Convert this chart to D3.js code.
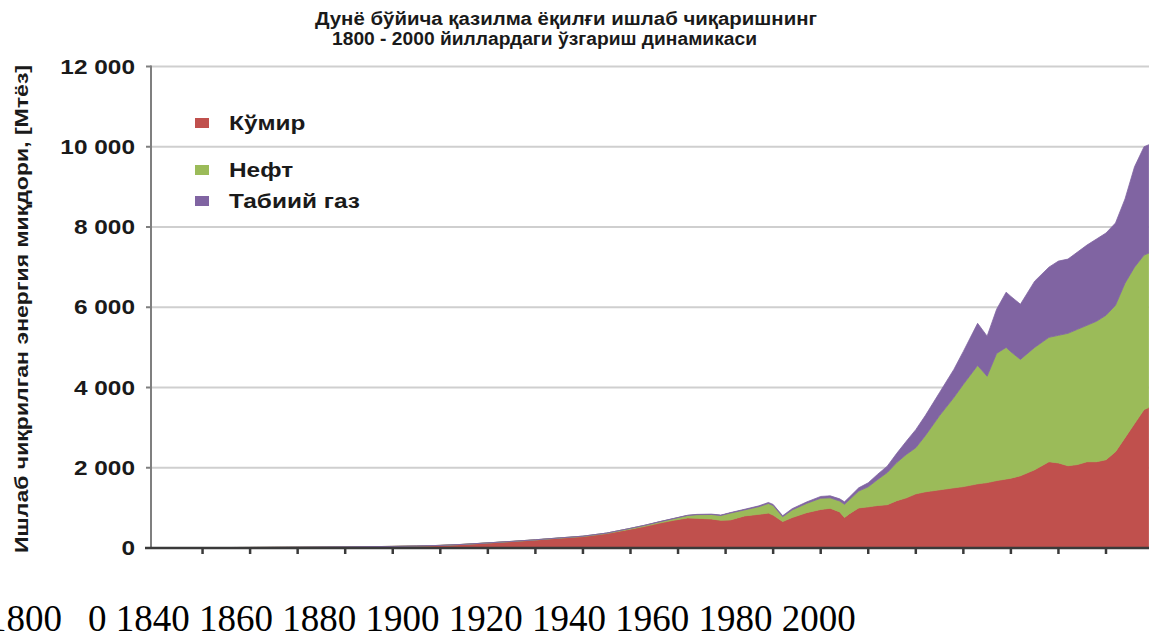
<!DOCTYPE html>
<html>
<head>
<meta charset="utf-8">
<script src="https://cdn.jsdelivr.net/npm/d3@7"></script>
<style>
  html, body { margin: 0; padding: 0; background: #fff; }
  svg { display: block; }
</style>
</head>
<body>
<svg id="chart" width="1149" height="639"></svg>
<script>
// Fossil fuel production, Mtoe, stacked by fuel
const years = [1800,1810,1820,1830,1840,1850,1855,1860,1865,1870,
               1875,1880,1885,1890,1895,1900,1903,1906,1909,1912,
               1914,1917,1919,1921,1924,1927,1929,1930,1932,1934,
               1937,1940,1942,1944,1945,1946,1948,1950,1952,1954,
               1956,1958,1960,1962,1965,1968,1970,1973,1975,1977,
               1979,1980,1982,1985,1988,1990,1992,1994,1996,1998,
               2000,2002,2004,2006,2008,2009];
const coal  = [8,10,14,20,28,40,50,65,90,125,
               160,200,245,285,360,470,540,620,690,750,
               740,725,690,700,800,840,870,820,660,760,
               880,960,990,900,760,850,1000,1025,1060,1080,
               1180,1250,1350,1400,1450,1500,1530,1600,1630,1680,
               1720,1740,1800,1950,2150,2120,2050,2080,2150,2150,
               2200,2400,2750,3100,3450,3500];
const oil   = [0,0,0,0,0,0,0,0,2,3,
               5,5,6,10,12,20,25,30,40,60,
               90,110,120,170,150,190,240,240,120,190,
               230,280,260,270,330,350,420,500,650,800,
               950,1080,1150,1400,1850,2250,2550,2950,2650,3170,
               3280,3150,2900,3050,3100,3180,3300,3370,3400,3500,
               3600,3650,3850,3900,3850,3850];
const gas   = [0,0,0,0,0,0,0,0,0,0,
               0,0,0,0,0,2,3,4,5,6,
               8,10,10,12,15,20,25,25,25,30,
               35,45,50,55,60,65,80,100,130,160,
               230,330,450,500,575,700,820,1050,1000,1100,
               1375,1380,1375,1650,1750,1850,1850,1925,2000,2050,
               2050,2050,2100,2500,2700,2700];

const seriesKeys   = ["coal", "oil", "gas"];
const seriesNames  = ["Кўмир", "Нефт", "Табиий газ"];
const seriesColors = ["#c0504d", "#9bbb59", "#8064a2"];

const yTicks = [0, 2000, 4000, 6000, 8000, 10000, 12000];
const xTickYears = d3.range(1810, 2011, 10);
const yearLabels = ["1800", "0", "1840", "1860", "1880", "1900", "1920", "1940", "1960", "1980", "2000"];

const titleLines = ["Дунё бўйича қазилма ёқилғи ишлаб чиқаришнинг",
                    "1800 - 2000 йиллардаги ўзгариш динамикаси"];
const yTitle = "Ишлаб чиқрилган энергия миқдори, [Мтёз]";

const table = years.map((y, i) => ({ year: y, coal: coal[i], oil: oil[i], gas: gas[i] }));

const svg = d3.select("#chart");
const W = 1149;
const axisX = 151, baseY = 548;

const x = d3.scaleLinear().domain([1800, 2000]).range([155, 1106]);
const y = d3.scaleLinear().domain([0, 12000]).range([baseY, 66.5]);

// horizontally widened sans text
const SX = 1.22;
function widen(sel, f) {
  sel.each(function () {
    const w = this.getComputedTextLength();
    this.setAttribute("textLength", w * f);
    this.setAttribute("lengthAdjust", "spacingAndGlyphs");
  });
}

// gridlines
svg.append("g").selectAll("line").data(yTicks.filter(d => d > 0)).join("line")
  .attr("x1", axisX).attr("x2", W)
  .attr("y1", d => y(d)).attr("y2", d => y(d))
  .attr("stroke", "#cfcfcf").attr("stroke-width", 2);

// stacked areas
const stacked = d3.stack().keys(seriesKeys)(table);
const area = d3.area()
  .x(d => x(d.data.year))
  .y0(d => y(d[0]))
  .y1(d => y(d[1]))
  .curve(d3.curveLinear);

svg.append("g").selectAll("path").data(stacked).join("path")
  .attr("d", area)
  .attr("fill", (d, i) => seriesColors[i])
  .attr("stroke", (d, i) => seriesColors[i])
  .attr("stroke-width", 0.8);

// y axis
svg.append("line").attr("x1", axisX).attr("x2", axisX)
  .attr("y1", y(12000) - 1).attr("y2", baseY)
  .attr("stroke", "#7f7f7f").attr("stroke-width", 2);
svg.append("g").selectAll("line").data(yTicks).join("line")
  .attr("x1", axisX - 5).attr("x2", axisX)
  .attr("y1", d => y(d)).attr("y2", d => y(d))
  .attr("stroke", "#7f7f7f").attr("stroke-width", 2);

const yLab = svg.append("g").selectAll("text").data(yTicks).join("text")
  .attr("x", 135).attr("y", d => y(d)).attr("dy", "0.36em")
  .attr("text-anchor", "end")
  .attr("font-family", "Liberation Sans, Arial, sans-serif")
  .attr("font-weight", "bold").attr("font-size", 20)
  .attr("fill", "#1a1a1a")
  .text(d => d === 0 ? "0" : d3.format(",")(d).replace(/,/g, " "));
widen(yLab, SX);

// x axis
svg.append("line").attr("x1", axisX - 6).attr("x2", W)
  .attr("y1", baseY).attr("y2", baseY)
  .attr("stroke", "#3a3a3a").attr("stroke-width", 2.5);
svg.append("g").selectAll("line").data(xTickYears).join("line")
  .attr("x1", d => x(d)).attr("x2", d => x(d))
  .attr("y1", baseY).attr("y2", baseY + 6)
  .attr("stroke", "#3a3a3a").attr("stroke-width", 2.5);

// title
const tl = svg.append("g").attr("font-family", "Liberation Sans, Arial, sans-serif")
  .attr("font-weight", "bold").attr("font-size", 18).attr("fill", "#1a1a1a");
tl.append("text").attr("x", 315).attr("y", 25)
  .attr("textLength", 502).attr("lengthAdjust", "spacingAndGlyphs").text(titleLines[0]);
tl.append("text").attr("x", 332).attr("y", 45)
  .attr("textLength", 425).attr("lengthAdjust", "spacingAndGlyphs").text(titleLines[1]);

// y axis title
svg.append("text")
  .attr("transform", "translate(28,309) rotate(-90)")
  .attr("text-anchor", "middle")
  .attr("font-family", "Liberation Sans, Arial, sans-serif")
  .attr("font-weight", "bold").attr("font-size", 19).attr("fill", "#1a1a1a")
  .attr("textLength", 488).attr("lengthAdjust", "spacingAndGlyphs")
  .text(yTitle);

// legend
const legY = [123, 170, 201];
const leg = svg.append("g").selectAll("g").data(seriesNames).join("g")
  .attr("transform", (d, i) => `translate(195,${legY[i]})`);
leg.append("rect").attr("x", 0).attr("y", -5).attr("width", 14).attr("height", 10)
  .attr("fill", (d, i) => seriesColors[i]);
const legText = leg.append("text").attr("x", 34).attr("y", 0).attr("dy", "0.36em")
  .attr("font-family", "Liberation Sans, Arial, sans-serif")
  .attr("font-weight", "bold").attr("font-size", 20).attr("fill", "#1a1a1a")
  .text(d => d);
widen(legText, SX);

// year labels row
const yr = svg.append("g").attr("font-family", "Liberation Serif, 'Times New Roman', serif")
  .attr("font-size", 37).attr("fill", "#000");
yr.append("text").attr("x", 62).attr("y", 631).attr("text-anchor", "end").text(yearLabels[0]);
yr.append("text").attr("x", 88).attr("y", 631).attr("xml:space", "preserve")
  .text(yearLabels.slice(1).join(" "));
</script>
</body>
</html>
